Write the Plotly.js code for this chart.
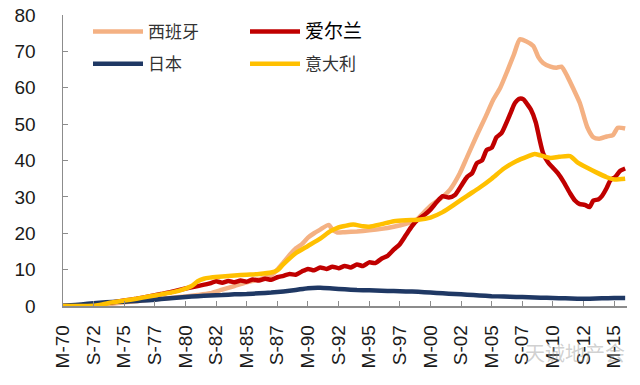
<!DOCTYPE html>
<html><head><meta charset="utf-8">
<script src="https://cdn.plot.ly/plotly-3.0.1.min.js"></script>
<style>body{margin:0;padding:0;background:#fff}#chart{width:640px;height:385px}</style>
</head><body><div id="chart"></div>
<script>
// x: years counted from March 1970 (1970.0 = M-70)
const spainX = [1970,1972,1973,1974,1975,1976,1977,1978,1979,1980,1981,1982,1983,1984,1985,1986,1987,1987.5,1988,1988.5,1989,1989.5,1990,1990.5,1991,1991.7,1992,1992.4,1993,1994,1995,1996,1997,1998,1998.8,1999.4,2000,2001,2001.6,2002.4,2003,2003.8,2004.5,2005.1,2005.7,2006.3,2006.8,2007.3,2007.8,2008.4,2008.8,2009.2,2009.8,2010.3,2010.7,2011.2,2011.7,2012.2,2012.8,2013.3,2013.8,2014.4,2014.9,2015.3,2015.9];
const spainY = [0,0,0.2,0.6,1.0,1.3,1.7,2.0,2.3,2.6,3.0,3.5,4.5,5.5,6.5,7.3,8.5,10.0,12.0,14.0,15.8,17.0,18.8,20.0,21.0,22.3,21.0,20.2,20.3,20.5,20.8,21.2,21.8,22.6,23.5,25.5,27.5,30.0,32.0,36.5,41.0,47.0,52.0,56.5,60.0,64.8,69.0,73.3,72.8,71.5,68.5,66.8,65.8,65.5,65.8,63.0,59.5,55.8,49.2,46.4,46.0,46.6,47.0,49.0,48.8];

const irelandX = [1970,1971,1972,1973,1974,1975,1976,1977,1978,1979,1980,1981,1982,1982.5,1983,1983.5,1984,1984.5,1985,1985.5,1986,1986.5,1987,1987.5,1988,1988.5,1989,1989.5,1990,1990.5,1991,1991.5,1992,1992.5,1993,1993.5,1994,1994.5,1995,1995.5,1996,1996.5,1997,1997.5,1998,1998.5,1999,1999.5,2000,2000.5,2001,2001.5,2002,2002.5,2003,2003.4,2003.8,2004.2,2004.6,2005,2005.4,2005.8,2006.3,2006.6,2006.9,2007.3,2007.6,2007.9,2008.2,2008.6,2008.9,2009.2,2009.6,2010.0,2010.4,2010.9,2011.4,2011.8,2012.2,2012.6,2013.0,2013.3,2013.7,2014.0,2014.4,2014.7,2015.1,2015.5,2015.9];
const irelandY = [0,0.1,0.3,0.6,1.0,1.5,2.0,2.6,3.3,4.0,4.8,5.5,6.2,6.8,6.4,6.9,6.5,7.0,6.7,7.3,7.0,7.5,7.2,7.9,8.3,8.8,8.6,9.5,10.2,9.8,10.6,10.2,10.8,10.4,11.0,10.6,11.4,11.0,12.0,11.8,13.0,13.8,15.5,17.0,19.5,22.0,23.8,25.0,26.5,28.5,30.2,29.8,30.5,33.0,35.5,36.5,39.3,40.0,42.9,43.5,46.4,47.5,51.1,53.5,55.8,57.0,56.8,55.5,54.0,50.5,46.0,42.0,39.5,38.0,36.5,34.0,31.0,29.0,28.0,27.8,27.2,29.0,29.3,30.2,32.5,34.6,35.5,37.2,37.8];

const japanX = [1970,1971,1972,1973,1974,1975,1976,1977,1978,1979,1980,1981,1982,1983,1984,1985,1986,1987,1988,1989,1990,1991,1992,1993,1994,1995,1996,1997,1998,1999,2000,2001,2002,2003,2004,2005,2006,2007,2008,2009,2010,2011,2012,2013,2014,2015,2015.9];
const japanY = [0.1,0.3,0.6,0.9,1.1,1.2,1.4,1.6,1.9,2.2,2.5,2.7,2.9,3.0,3.2,3.3,3.5,3.7,4.0,4.4,4.9,5.0,4.8,4.6,4.4,4.3,4.2,4.1,4.0,3.9,3.7,3.5,3.3,3.1,2.9,2.7,2.6,2.5,2.4,2.3,2.2,2.1,2.0,2.0,2.1,2.2,2.2];

const italyX = [1970,1971,1972,1973,1974,1975,1976,1977,1978,1979,1980,1980.5,1981,1981.5,1982,1983,1984,1985,1986,1987,1987.5,1988,1989,1990,1991,1991.8,1992.4,1993,1993.7,1994.5,1995,1996,1997,1998,1999,2000,2001,2002,2003,2004,2005,2006,2007,2008,2008.5,2009,2009.8,2010.5,2011.4,2012,2012.8,2013.5,2014.4,2015,2015.9];
const italyY = [0,0,0,0.3,1.0,1.5,2.0,2.6,3.2,3.8,4.8,5.5,6.8,7.5,7.8,8.1,8.4,8.6,8.8,9.2,9.8,11.5,14.5,16.5,18.5,20.5,21.5,22.0,22.4,21.9,21.8,22.5,23.3,23.6,23.7,24.3,25.8,28.0,30.3,32.5,35.0,37.8,39.8,41.2,41.8,41.4,40.7,41.0,41.2,39.5,38.0,36.8,35.4,34.8,35.0];

const tickVals = [1970,1972.5,1975,1977.5,1980,1982.5,1985,1987.5,1990,1992.5,1995,1997.5,2000,2002.5,2005,2007.5,2010,2012.5,2015];
const tickText = ['M-70','S-72','M-75','S-77','M-80','S-82','M-85','S-87','M-90','S-92','M-95','S-97','M-00','S-02','M-05','S-07','M-10','S-12','M-15'];

const names = ['西班牙','<span style="font-size:19px;color:#000">爱尔兰</span>','日本','意大利'];
const colors = ['#F4B183','#C00000','#1F3864','#FFC000'];
const legendIds = ['legend','legend2','legend','legend2'];
const seriesX = [spainX, irelandX, japanX, italyX];
const seriesY = [spainY, irelandY, japanY, italyY];

const lw = 4.5;
const traces = seriesX.map((xs, i) => ({
  type: 'scatter', mode: 'lines', hoverinfo: 'skip',
  x: xs, y: seriesY[i], name: names[i],
  legend: legendIds[i], legendgroup: 'g' + i,
  line: {color: colors[i], width: lw, shape: 'spline', smoothing: 0.6}
}));

const legendCommon = {
  xref: 'paper', yref: 'paper', xanchor: 'left', yanchor: 'top',
  orientation: 'v', bgcolor: 'rgba(0,0,0,0)', borderwidth: 0,
  itemwidth: 50, tracegroupgap: 7,
  font: {family: 'Noto Sans CJK SC, sans-serif', size: 17, color: '#333'}
};

const layout = {
  width: 640, height: 385,
  margin: {l: 63, r: 13, t: 15, b: 79, pad: 0},
  paper_bgcolor: '#fff', plot_bgcolor: '#fff',
  font: {family: 'Liberation Sans, Arial, sans-serif', size: 19, color: '#1a1a1a'},
  showlegend: true,
  legend: Object.assign({}, legendCommon, {x: (88 - 63) / 564, y: (306 - 14) / 291}),
  legend2: Object.assign({}, legendCommon, {x: (245 - 63) / 564, y: (306 - 14) / 291}),
  xaxis: {
    range: [1970, 2016.05], showgrid: false, zeroline: false,
    showline: true, linecolor: '#8c8c8c', linewidth: 1.5,
    ticks: 'inside', ticklen: 5, tickcolor: '#8c8c8c', tickwidth: 1,
    tickmode: 'array', tickvals: tickVals, ticktext: tickText,
    tickangle: -90, ticklabelstandoff: 10,
    tickfont: {family: 'Liberation Sans, Arial, sans-serif', size: 19, color: '#1a1a1a'}
  },
  yaxis: {
    range: [0, 80], showgrid: false, zeroline: false,
    showline: true, linecolor: '#8c8c8c', linewidth: 1.5,
    ticks: 'inside', ticklen: 5, tickcolor: '#8c8c8c', tickwidth: 1,
    tickmode: 'linear', tick0: 0, dtick: 10, ticklabelstandoff: 22,
    tickfont: {family: 'Liberation Sans, Arial, sans-serif', size: 19, color: '#1a1a1a'}
  },
  annotations: [{
    xref: 'paper', yref: 'paper', x: 1.0, y: -0.16, xanchor: 'right', yanchor: 'middle',
    text: '天诚地产会', showarrow: false,
    font: {family: 'Noto Sans CJK SC, sans-serif', size: 20, color: 'rgba(150,150,150,0.45)'}
  }]
};

Plotly.newPlot('chart', traces, layout, {staticPlot: true, displayModeBar: false});
</script></body></html>
